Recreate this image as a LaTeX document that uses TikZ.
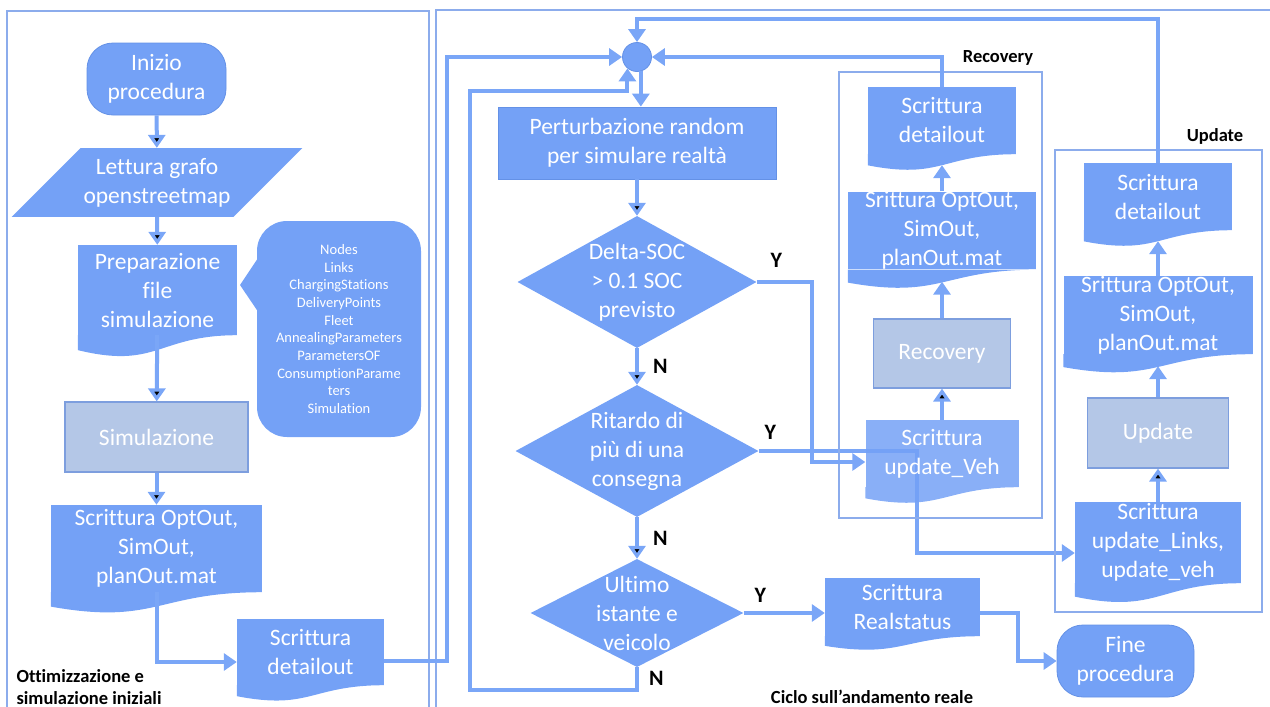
\documentclass[tikz,border=0pt]{standalone}
\usepackage{fontspec}
\setmainfont{Carlito}[Ligatures=CommonOff]
\usepackage{tikz}
\usetikzlibrary{positioning}
\usetikzlibrary{arrows.meta, shapes.geometric, calc, backgrounds}
\definecolor{nodefill}{RGB}{116,161,246}
\definecolor{nodeline}{RGB}{100,145,230}
\definecolor{grayfill}{RGB}{180,199,231}
\definecolor{grayline}{RGB}{125,158,222}
\definecolor{flowcol}{RGB}{122,166,247}
\definecolor{framecol}{RGB}{140,172,236}

% wavy bottom of a document box
\newcommand{\docwave}[2][]{%
  \fill[nodefill,#1] let \p1=(#2.north), \p2=(#2.south), \n1={\y1-\y2} in
    (#2.south east) .. controls (#2.south) and ([yshift=-0.38*\n1]#2.south)
    .. ([yshift=-0.165*\n1]#2.south west) -- (#2.south west) -- cycle;}

\begin{document}
\begin{tikzpicture}[x=1pt, y=-1pt, >={Triangle[length=13pt,width=17pt]},
  box/.style = {rectangle, fill=nodefill, text=white, align=center, font=\fontsize{23.5}{29}\selectfont},
  term/.style = {box, rounded corners=26pt, draw=nodeline, line width=0.8pt},
  inout/.style = {box, trapezium, trapezium left angle=45, trapezium right angle=135, inner xsep=3pt, inner ysep=10pt},
  doc/.style = {box, inner sep=0pt},
  proc/.style = {box, fill=grayfill, draw=grayline, line width=1.2pt},
  dec/.style = {diamond, fill=nodefill, inner sep=0pt},
  dectext/.style = {text=white, align=center, font=\fontsize{23.5}{29}\selectfont},
  hubnode/.style = {circle, fill=nodefill, draw=nodeline, line width=0.8pt, minimum size=29pt, inner sep=0pt},
  note/.style = {box, rounded corners=30pt, font=\fontsize{14.5}{17.7}\selectfont},
  flow/.style = {draw=flowcol, line width=4pt},
  grp/.style = {draw=framecol, line width=1.5pt},
  tag/.style = {font=\fontsize{18.5}{22.5}\selectfont\bfseries},
  yn/.style = {font=\fontsize{22}{26}\selectfont\bfseries, inner sep=0pt}]
\useasboundingbox (0,0) rectangle (1270,707);

% frames
\draw[grp] (7,11) rectangle (429,720);
\draw[grp] (436,10) rectangle (1285,720);
\draw[grp] (839,72) rectangle (1042,518);
\draw[grp] (1055,150) rectangle (1262,612);

% initial optimisation
\node[term, minimum width=139pt, minimum height=72pt] (ini) at (156.5,79) {Inizio\\procedura};
\node[inout] (read) at (157,182.5) {Lettura grafo\\openstreetmap};
\node[doc, minimum width=159pt, minimum height=90pt] (prep) at (157.5,290) {Preparazione\\file\\simulazione};
\node[proc, minimum width=183pt, minimum height=70pt] (sim) at (156.5,437) {Simulazione};
\node[doc, minimum width=211pt, minimum height=87pt] (opt) at (156.5,548.5) {Scrittura OptOut,\\SimOut,\\planOut.mat};
\node[doc, minimum width=147pt, minimum height=66pt] (det) at (310.5,652) {Scrittura\\detailout};
\docwave{prep} \docwave{opt} \docwave{det}
\node[note, minimum width=164pt, minimum height=216pt] (par) at (339,329) {Nodes\\Links\\ChargingStations\\DeliveryPoints\\Fleet\\AnnealingParameters\\ParametersOF\\ConsumptionParame\\ters\\Simulation};
\fill[nodefill] ([xshift=2pt,yshift=-36pt]par.north west) -- (240,285) -- ([xshift=2pt,yshift=-92pt]par.north west) -- cycle;

% real loop
\node[hubnode] (hub) at (637,57) {};
\node[box, minimum width=278pt, minimum height=72pt, draw=nodeline, line width=0.8pt] (pert) at (637,143) {Perturbazione random\\per simulare realtà};
\node[dec, minimum width=239pt, minimum height=132pt, label={[dectext]center:Delta-SOC\\> 0.1 SOC\\previsto}] (d1) at (637,282) {};
\node[dec, minimum width=243pt, minimum height=132pt, label={[dectext]center:Ritardo di\\più di una\\consegna}] (d2) at (637,451) {};
\node[dec, minimum width=213pt, minimum height=108pt, label={[dectext]center:Ultimo\\istante e\\veicolo}] (d3) at (637,613) {};
\node[doc, minimum width=155pt, minimum height=58pt] (real) at (902.5,607) {Scrittura\\Realstatus};
\node[term, minimum width=137pt, minimum height=72pt] (fine) at (1125.5,661) {Fine\\procedura};
\docwave{real}

% recovery
\node[doc, minimum width=148pt, minimum height=67pt] (rdet) at (942,120.5) {Scrittura\\detailout};
\node[doc, minimum width=188pt, minimum height=75pt] (ropt) at (942,230.5) {Srittura OptOut,\\SimOut,\\planOut.mat};
\node[proc, minimum width=137pt, minimum height=69pt] (rrec) at (942,353.5) {Recovery};
\node[doc, minimum width=153pt, minimum height=67pt, fill opacity=0.85, text opacity=1] (rveh) at (942,453.5) {Scrittura\\update\_Veh};
\docwave{rdet} \docwave{ropt} \docwave[fill opacity=0.85]{rveh}

% update
\node[doc, minimum width=148pt, minimum height=67pt] (udet) at (1158,196.5) {Scrittura\\detailout};
\node[doc, minimum width=189pt, minimum height=74pt] (uopt) at (1158,315) {Srittura OptOut,\\SimOut,\\planOut.mat};
\node[proc, minimum width=141pt, minimum height=70pt] (uupd) at (1158,433) {Update};
\node[doc, minimum width=166pt, minimum height=81pt] (ulnk) at (1158,542.5) {Scrittura\\update\_Links,\\update\_veh};
\docwave{udet} \docwave{uopt} \docwave{ulnk}

% labels
\node[tag, align=left, anchor=west] (ottlbl) at (13,687) {Ottimizzazione e\\simulazione iniziali};
\node[tag] (ciclbl) at (872,697) {Ciclo sull’andamento reale};
\node[tag] (reclbl) at (998,58) {Recovery};
\node[tag] (updlbl) at (1215,136) {Update};

% connectors
\path[flow] (ini) edge[->] (read);
\path[flow] (read) edge[->] (prep);
\path[flow] (prep) edge[->] (sim);
\path[flow] (sim) edge[->] (opt);
\draw[flow, ->] (opt.south) |- ([yshift=-10pt]det.west);
\draw[flow, ->] ([yshift=-9pt]det.east) -- ++(63,0) |- (hub.west);
\draw[flow, ->] (hub.-75) -- (hub.-75 |- pert.north);
\path[flow] (pert) edge[->] (d1);
\path[flow] (d1) edge[->] node[yn, right=14pt] {N} (d2);
\path[flow] (d2) edge[->] node[yn, right=14pt] {N} (d3);
\draw[flow, ->] (d1.east) node[yn, above right=13pt and 12pt] {Y} -- ++(55,0) |- ([yshift=-8.5pt]rveh.west);
\begin{scope}[on background layer]
\draw[flow, ->] (d2.east) node[yn, above right=10pt and 4pt] {Y} -- ++(158.5,0) |- ([yshift=-10.5pt]ulnk.west);
\end{scope}
\draw[flow, ->] (d3.east) node[yn, above right=9pt and 9pt] {Y} -- (d3.east -| real.west);
\draw[flow, ->] (d3.south) -- node[yn, right=10pt] {N} ++(0,23) -| (470,91) -| (hub.-130);
\draw[flow, ->] ([yshift=-6pt]real.east) -- ++(38,0) |- (fine.west);
\path[flow] (rveh) edge[->] (rrec);
\draw[flow, ->] (rrec.north) -- ([yshift=-12pt]ropt.south);
\draw[flow, ->] (ropt.north) -- ([yshift=-11pt]rdet.south);
\draw[flow, ->] (rdet.north) |- (hub.east);
\path[flow] (ulnk) edge[->] (uupd);
\draw[flow, ->] (uupd.north) -- ([yshift=-12pt]uopt.south);
\draw[flow, ->] (uopt.north) -- ([yshift=-11pt]udet.south);
\draw[flow, ->] (udet.north) -- ++(0,-144) -| (hub.north);
\end{tikzpicture}
\end{document}
